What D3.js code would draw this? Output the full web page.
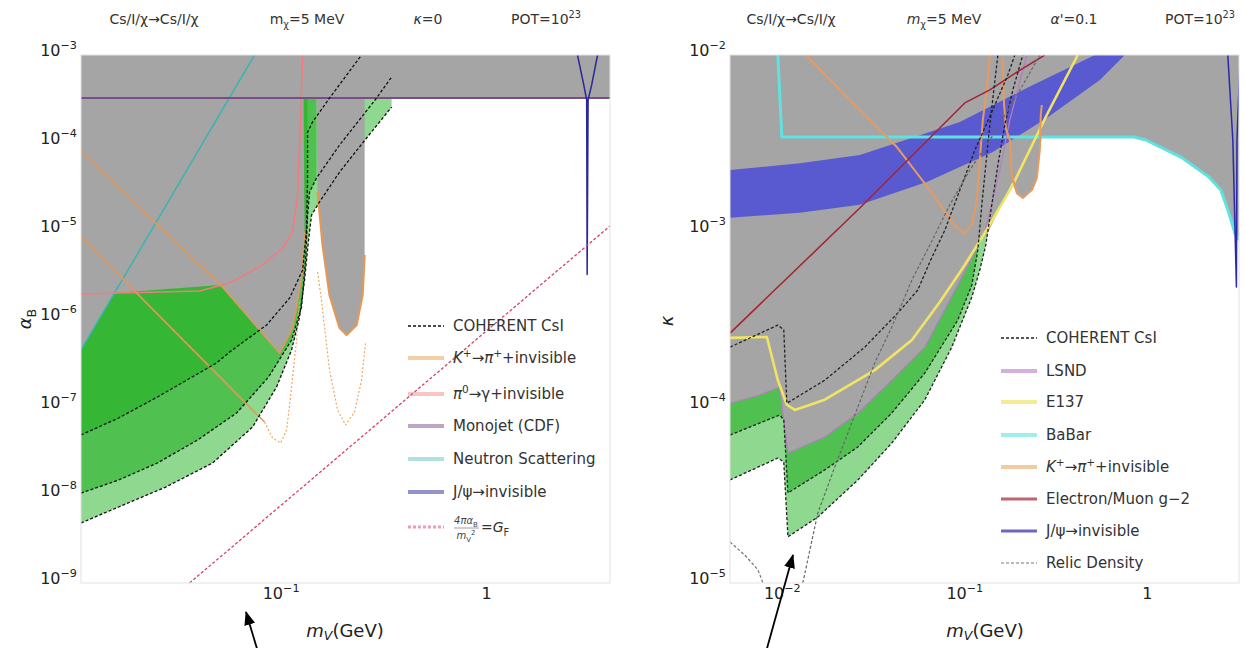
<!DOCTYPE html>
<html>
<head>
<meta charset="utf-8">
<script src="https://cdn.jsdelivr.net/npm/d3@7"></script>
<style>
  body { margin: 0; background: #fff; }
</style>
</head>
<body>
<div id="chart"></div>
<script>
// ---------- left panel: alpha_B vs m_V (GeV), kappa = 0 ----------
const xTicksLeft = [0.1, 1];
const yTicksLeft = [1e-3, 1e-4, 1e-5, 1e-6, 1e-7, 1e-8, 1e-9];

const grayLeft = [[0.0107,1e-3],[4.0,1e-3],[4.0,3.24e-4],[0.2563,3.24e-4],[0.2563,5.34e-6],[0.2505,1.87e-6],
  [0.2342,8.55e-7],[0.2094,6.58e-7],[0.1936,7.9e-7],[0.173,1.87e-6],[0.16,6.93e-6],[0.1514,2.77e-5],
  [0.1496,3.24e-4],[0.1294,3.24e-4],[0.1308,9.75e-6],[0.1265,2.92e-6],[0.1144,7.9e-7],[0.0989,4.11e-7],
  [0.0511,2.43e-6],[0.01558,1.97e-6],[0.0107,4.45e-7]];

// COHERENT CsI contours (three exposures)
const cohLeft1 = [[0.0107,4.81e-8],[0.0163,7.5e-8],[0.0252,1.3e-7],[0.0488,3.16e-7],[0.0565,4.22e-7],
  [0.0855,8.55e-7],[0.1106,1.73e-6],[0.128,3.6e-6],[0.1338,1.03e-5],[0.1353,3.8e-5],[0.1353,1.33e-4],
  [0.143,1.73e-4],[0.173,3.24e-4],[0.2477,1e-3]];
const cohLeft2 = [[0.0107,1.05e-8],[0.0163,1.48e-8],[0.0252,2.31e-8],[0.0395,4.22e-8],[0.0611,8.55e-8],
  [0.0874,2.19e-7],[0.1131,5.77e-7],[0.1265,1.37e-6],[0.1323,4.68e-6],[0.1353,1.52e-5],[0.1384,2.77e-5],
  [0.1496,4.0e-5],[0.1936,9.49e-5],[0.293,3.24e-4],[0.3467,5.62e-4]];
const cohLeft3 = [[0.0107,4.81e-9],[0.0163,7.31e-9],[0.0276,1.23e-8],[0.0467,2.31e-8],[0.0731,5.93e-8],
  [0.0956,1.69e-7],[0.1131,4.45e-7],[0.1237,1.05e-6],[0.1308,2.77e-6],[0.1368,7.9e-6],[0.1415,1.52e-5],
  [0.1547,2.14e-5],[0.1936,4.68e-5],[0.262,1.14e-4],[0.3467,2.56e-4]];
const cohTopLeft1 = [[0.1353,1e-3],[0.0107,1e-3]];
const cohTopLeft2 = [[0.1496,1e-3],[0.0107,1e-3]];
const cohTopLeft3 = [[0.3467,1e-3],[0.0107,1e-3]];

const pi0Left = [[0.0107,1.92e-6],[0.0404,2.08e-6],[0.0565,2.57e-6],[0.0818,4.11e-6],[0.1023,6.41e-6],
  [0.1144,9.75e-6],[0.121,2.56e-5],[0.1251,1.82e-4],[0.128,1e-3]];
const neutronLeft = [[0.0107,4.45e-7],[0.0747,1e-3]];
const monojetLeft = [[0.0107,3.24e-4],[4.0,3.24e-4]];
const kaonLeftA = [[0.0107,8.1e-5],[0.0511,2.43e-6],[0.0989,4.1e-7],[0.1144,7.9e-7],[0.1265,2.9e-6],[0.1308,9.8e-6]];
const kaonLeftB = [[0.0107,8.77e-6],[0.02157,1.64e-6],[0.0836,6.76e-8]];
const kaonBlobLeft = [[0.1514,2.77e-5],[0.16,6.93e-6],[0.173,1.87e-6],[0.1936,7.9e-7],[0.2094,6.58e-7],
  [0.2342,8.55e-7],[0.2505,1.87e-6],[0.2563,5.34e-6]];
const kaonDashLeft1 = [[0.0836,6.76e-8],[0.0914,4.45e-8],[0.1,3.9e-8],[0.107,5.48e-8],[0.1118,1.3e-7],
  [0.1196,5.77e-7],[0.1237,1.64e-6]];
const kaonDashLeft2 = [[0.1514,3.42e-6],[0.158,1.64e-6],[0.173,2.63e-7],[0.1893,9.25e-8],[0.207,6.24e-8],
  [0.229,8.77e-8],[0.2477,2.03e-7],[0.259,5.33e-7]];
const jpsiLeft = [[2.78,1e-3],[2.98,4.6e-4],[3.08,3.1e-4],[3.097,3.2e-6],[3.13,3.1e-4],[3.26,4.6e-4],[3.48,1e-3]];
const gfLeft = [[0.0361,1e-9],[4.0,1.14e-5]];

// ---------- right panel: kappa vs m_V (GeV), alpha' = 0.1 ----------
const xTicksRight = [0.01, 0.1, 1];
const yTicksRight = [1e-2, 1e-3, 1e-4, 1e-5];

const grayRight = [[0.0052,1e-2],[3.2,1e-2],[3.2,8.9e-4],[3.035,9.75e-4],[2.814,1.27e-3],[2.544,1.71e-3],
  [2.186,2.03e-3],[1.536,2.63e-3],[0.987,3.29e-3],[0.849,3.42e-3],[0.2658,3.42e-3],[0.2592,2.88e-3],
  [0.2497,2.0e-3],[0.2344,1.71e-3],[0.2092,1.54e-3],[0.194,1.64e-3],[0.1821,1.87e-3],[0.1345,9.75e-4],
  [0.1295,9.87e-4],[0.1072,6.67e-4],[0.0833,4.05e-4],[0.0608,2.19e-4],[0.04006,1.42e-4],[0.0261,9.25e-5],
  [0.0172,6.76e-5],[0.0108,5.48e-5],[0.01025,8.44e-5],[0.00975,1.3e-4],[0.00758,1.17e-4],[0.0052,1.05e-4]];

const cohRight1 = [[0.0052,2.19e-4],[0.00951,2.92e-4],[0.01025,2.74e-4],[0.01065,1.05e-4],[0.0172,1.42e-4],
  [0.0285,2.19e-4],[0.0432,3.42e-4],[0.0556,4.62e-4],[0.0647,6.67e-4],[0.0782,1.01e-3],[0.0945,1.71e-3],
  [0.1142,2.88e-3],[0.1415,4.75e-3],[0.1732,7.7e-3],[0.1891,1e-2]];
const cohRight2 = [[0.0052,6.93e-5],[0.00975,9.01e-5],[0.01025,8.44e-5],[0.0108,3.25e-5],[0.0172,4.39e-5],
  [0.0261,5.93e-5],[0.04006,9.25e-5],[0.0608,1.56e-4],[0.0921,3.12e-4],[0.11,4.93e-4],[0.1186,7.8e-4],
  [0.1247,1.41e-3],[0.1311,2.37e-3],[0.138,4.0e-3],[0.1451,6.33e-3],[0.1527,1e-2]];
const cohRight3 = [[0.0052,3.85e-5],[0.00951,5.13e-5],[0.01025,4.87e-5],[0.0108,1.83e-5],[0.01575,2.37e-5],
  [0.0261,3.85e-5],[0.04006,6.24e-5],[0.0608,1.1e-4],[0.0854,2.19e-4],[0.11,4.22e-4],[0.1216,6.0e-4],
  [0.1311,8.32e-4],[0.1415,1.41e-3],[0.1527,2.37e-3],[0.1667,4.0e-3],[0.1844,6.33e-3],[0.2092,1e-2]];
const cohTopRight = [[0.0052,1e-2]];

const lsndRight = [[0.0052,1.05e-4],[0.00758,1.17e-4],[0.00975,1.3e-4],[0.01025,8.44e-5],[0.0108,5.48e-5],
  [0.0172,6.76e-5],[0.0261,9.25e-5],[0.04006,1.42e-4],[0.0608,2.19e-4],[0.0833,4.05e-4],[0.1072,6.67e-4],
  [0.1295,9.87e-4],[0.1565,2.22e-3],[0.1776,4.27e-3],[0.22,1e-2]];
const e137Right = [[0.0052,2.47e-4],[0.00828,2.5e-4],[0.00951,1.42e-4],[0.01065,1.03e-4],[0.01178,9.62e-5],
  [0.0172,1.1e-4],[0.0323,1.62e-4],[0.0516,2.4e-4],[0.0734,3.95e-4],[0.1006,6.41e-4],[0.1345,1.04e-3],
  [0.1844,1.83e-3],[0.283,4.56e-3],[0.4186,1e-2]];
const babarRight = [[0.00951,1e-2],[0.01,3.42e-3],[0.849,3.42e-3],[0.987,3.29e-3],[1.536,2.63e-3],
  [2.186,2.03e-3],[2.544,1.71e-3],[2.814,1.27e-3],[3.035,9.75e-4],[3.2,8.9e-4]];
const kaonRight1 = [[0.01353,1e-2],[0.0236,5.55e-3],[0.0427,3.0e-3],[0.0647,1.71e-3],[0.0898,1.05e-3],
  [0.1006,9.75e-4],[0.11,1.08e-3],[0.1171,1.5e-3],[0.1216,2.53e-3],[0.1263,4.27e-3],[0.1328,6.33e-3],[0.138,1e-2]];
const kaonRight2 = [[0.1626,9.6e-3],[0.1646,5.55e-3],[0.1688,3.85e-3],[0.1776,3.29e-3],[0.1821,2.08e-3],
  [0.194,1.64e-3],[0.2092,1.54e-3],[0.2344,1.71e-3],[0.2497,2.0e-3],[0.2592,2.88e-3],[0.2624,4.56e-3],[0.2658,5.2e-3]];
const g2Right = [[0.0052,2.63e-4],[0.02676,1.35e-3],[0.1006,5.34e-3],[0.138,6.33e-3],[0.194,8.0e-3],[0.276,1e-2]];
const bandUpperRight = [[0.0052,2.22e-3],[0.01255,2.43e-3],[0.02676,2.7e-3],[0.0945,4.16e-3],[0.22,6.49e-3],[0.519,1e-2]];
const bandLowerRight = [[0.0052,1.19e-3],[0.01255,1.27e-3],[0.02676,1.41e-3],[0.0623,1.9e-3],[0.1433,2.81e-3],
  [0.283,4.39e-3],[0.553,7.21e-3],[0.758,1e-2]];
const jpsiRight = [[2.778,1e-2],[2.96,3.3e-3],[3.097,4.8e-4],[3.12,3.3e-3],[3.25,1e-2]];
const relicRight1 = [[0.0052,1.71e-5],[0.00627,1.44e-5],[0.00739,1.19e-5],[0.0082,9e-6]];
const relicRight2 = [[0.01303,1e-5],[0.01575,2.5e-5],[0.0195,4.56e-5],[0.0261,1.0e-4],[0.0323,1.78e-4],
  [0.04006,2.85e-4],[0.0472,4.22e-4],[0.0516,5.27e-4],[0.0647,8.32e-4],[0.0833,1.41e-3],[0.1072,2.22e-3],
  [0.138,3.29e-3],[0.171,4.75e-3],[0.2092,6.75e-3],[0.2592,1e-2]];

// ---------- text ----------
const titlesLeft = [
  [{t: "Cs/I/χ→Cs/I/χ"}],
  [{t: "m"}, {t: "χ", sub: 1}, {t: "=5 MeV"}],
  [{t: "κ", i: 1}, {t: "=0"}],
  [{t: "POT=10"}, {t: "23", sup: 1}]
];
const titlesRight = [
  [{t: "Cs/I/χ→Cs/I/χ"}],
  [{t: "m", i: 1}, {t: "χ", sub: 1}, {t: "=5 MeV"}],
  [{t: "α'", i: 1}, {t: "=0.1"}],
  [{t: "POT=10"}, {t: "23", sup: 1}]
];
const legendLeftLabels = [
  [{t: "COHERENT CsI"}],
  [{t: "K", i: 1}, {t: "+", sup: 1}, {t: "→"}, {t: "π", i: 1}, {t: "+", sup: 1}, {t: "+invisible"}],
  [{t: "π", i: 1}, {t: "0", sup: 1}, {t: "→γ+invisible"}],
  [{t: "Monojet (CDF)"}],
  [{t: "Neutron Scattering"}],
  [{t: "J/ψ→invisible"}],
  null
];
const legendRightLabels = [
  [{t: "COHERENT CsI"}],
  [{t: "LSND"}],
  [{t: "E137"}],
  [{t: "BaBar"}],
  [{t: "K", i: 1}, {t: "+", sup: 1}, {t: "→"}, {t: "π", i: 1}, {t: "+", sup: 1}, {t: "+invisible"}],
  [{t: "Electron/Muon g−2"}],
  [{t: "J/ψ→invisible"}],
  [{t: "Relic Density"}]
];

// ---------- setup ----------
const width = 1245;
const height = 648;
const gray = "#a5a5a5";
const greenDark = "#35b635";
const greenMid = "#50c150";
const greenLight = "#8fd88f";

const svg = d3.select("#chart")
  .append("svg")
  .attr("width", width)
  .attr("height", height)
  .style("font-family", "'DejaVu Sans', sans-serif");

const defs = svg.append("defs");
defs.append("marker")
  .attr("id", "arrowhead")
  .attr("viewBox", "0 0 14 11")
  .attr("refX", 13).attr("refY", 5.5)
  .attr("markerWidth", 14).attr("markerHeight", 11)
  .attr("markerUnits", "userSpaceOnUse")
  .attr("orient", "auto")
  .append("path").attr("d", "M0,0L14,5.5L0,11Z").attr("fill", "#000");

// write text made of plain / italic / sub / sup pieces
function rich(text, segs, size, subShift = 0.28) {
  let shift = 0;
  segs.forEach(s => {
    const target = s.sup ? -0.42 * size : s.sub ? subShift * size : 0;
    const ts = text.append("tspan").text(s.t).attr("dy", target - shift);
    if (s.sup || s.sub) ts.attr("font-size", size * 0.7);
    if (s.i) ts.attr("font-style", "italic");
    shift = target;
  });
  return text;
}

function powLabel(d) {
  const e = Math.round(Math.log10(d));
  return e === 0 ? [{t: "1"}] : [{t: "10"}, {t: "−" + Math.abs(e), sup: 1}];
}

function makePanel(x, y, id) {
  const [x0, x1] = x.range();
  const [y1, y0] = y.range();
  defs.append("clipPath").attr("id", id)
    .append("rect").attr("x", x0).attr("y", y0).attr("width", x1 - x0).attr("height", y1 - y0);
  const g = svg.append("g").attr("clip-path", `url(#${id})`);
  const line = d3.line().x(d => x(d[0])).y(d => y(d[1]));
  return {
    x, y, g, x0, x1, y0, y1,
    area(pts, fill, op = 1) {
      return g.append("path").attr("d", line(pts) + "Z").attr("fill", fill).attr("opacity", op);
    },
    line(pts, stroke, w, dash = null, op = 1) {
      return g.append("path").attr("d", line(pts))
        .attr("fill", "none").attr("stroke", stroke).attr("stroke-width", w)
        .attr("stroke-dasharray", dash).attr("stroke-opacity", op)
        .attr("stroke-linejoin", "round");
    }
  };
}

function drawAxes(p, xTicks, yTicks) {
  svg.append("rect")
    .attr("x", p.x0).attr("y", p.y0).attr("width", p.x1 - p.x0).attr("height", p.y1 - p.y0)
    .attr("fill", "none").attr("stroke", "#e2e2e2");

  const gx = svg.append("g")
    .attr("transform", `translate(0,${p.y1})`)
    .call(d3.axisBottom(p.x).tickValues(xTicks).tickSize(0).tickPadding(16).tickFormat(""));
  const gy = svg.append("g")
    .attr("transform", `translate(${p.x0},0)`)
    .call(d3.axisLeft(p.y).tickValues(yTicks).tickSize(0).tickPadding(4).tickFormat(""));

  [gx, gy].forEach(g => {
    g.select(".domain").remove();
    g.attr("font-size", 16).attr("font-family", null);
    g.selectAll(".tick text").attr("fill", "#222").each(function (d) {
      rich(d3.select(this), powLabel(d), 16);
    });
  });
}

function drawLegend(x, ys, labels, styles) {
  labels.forEach((lab, i) => {
    const s = styles[i];
    svg.append("line")
      .attr("x1", x).attr("x2", x + 36).attr("y1", ys[i]).attr("y2", ys[i])
      .attr("stroke", s[0]).attr("stroke-width", s[1]).attr("stroke-opacity", s[2])
      .attr("stroke-dasharray", s[3] || null);
    if (lab) {
      const t = svg.append("text").attr("x", x + 45).attr("y", ys[i] + 5)
        .attr("font-size", 15).attr("fill", "#333");
      rich(t, lab, 15);
    }
  });
}

function drawTitles(xs, titles) {
  titles.forEach((segs, i) => {
    const t = svg.append("text").attr("x", xs[i]).attr("y", 24)
      .attr("text-anchor", "middle").attr("font-size", 14).attr("fill", "#333");
    rich(t, segs, 14);
  });
}

// ---------- left panel ----------
const L = makePanel(
  d3.scaleLog().domain([0.0107, 4.0]).range([81, 610]),
  d3.scaleLog().domain([1e-9, 1e-3]).range([583, 55]),
  "clipLeft");

L.area(cohLeft3.concat(cohTopLeft3), greenLight);
L.area(cohLeft2.slice(0, 12).concat(cohTopLeft2), greenMid);
L.area(cohLeft1.slice(0, 11).concat(cohTopLeft1), greenDark);
L.area(grayLeft, gray);

L.line(neutronLeft, "#3db3b0", 1.5);
L.line(pi0Left, "#f07c80", 1.6);
L.line(kaonLeftA, "#e0995a", 1.6);
L.line(kaonLeftB, "#e0995a", 1.6);
L.line(kaonBlobLeft, "#e0995a", 2.2);
L.line(kaonDashLeft1, "#f0a860", 1.2, "2,2");
L.line(kaonDashLeft2, "#f0a860", 1.2, "2,2");
L.line(monojetLeft, "#7b4b8a", 2);
L.line(jpsiLeft, "#28289a", 1.5);
L.line(gfLeft, "#d8405e", 1.3, "3,2");
[cohLeft1, cohLeft2, cohLeft3].forEach(c => L.line(c, "#111", 1.3, "3,2"));

drawAxes(L, xTicksLeft, yTicksLeft);

// ---------- right panel ----------
const R = makePanel(
  d3.scaleLog().domain([0.0052, 3.2]).range([730, 1239]),
  d3.scaleLog().domain([1e-5, 1e-2]).range([583, 55]),
  "clipRight");

R.area(cohRight3.concat(cohTopRight), greenLight);
R.area(cohRight2.concat(cohTopRight), greenMid);
R.area(grayRight, gray);
R.area(bandUpperRight.concat(bandLowerRight.slice().reverse()), "#5a5ad0");

R.line(babarRight, "#5fe2e2", 3);
R.line(lsndRight, "#b67cc6", 1.2);
R.line(e137Right, "#efe466", 2.6);
R.line(kaonRight1, "#e89a60", 2);
R.line(kaonRight2, "#e89a60", 2);
R.line(g2Right, "#a52235", 1.5);
[cohRight1, cohRight2, cohRight3].forEach(c => R.line(c, "#222", 1.3, "3,2"));
R.line(relicRight1, "#777", 1.2, "3,2");
R.line(relicRight2, "#666", 1.2, "3,2");
R.line(jpsiRight, "#2a2aa8", 1.5);

drawAxes(R, xTicksRight, yTicksRight);

// ---------- legends ----------
drawLegend(408, [326, 358, 394, 426, 459, 492, 527], legendLeftLabels, [
  ["#111", 1.3, 1, "3,2"],
  ["#e8a050", 4, 0.5],
  ["#f07c80", 4, 0.45],
  ["#7b4b8a", 4, 0.5],
  ["#3db3b0", 4, 0.4],
  ["#28289a", 4, 0.5],
  ["#d8405e", 3, 0.5, "3,2"]
]);
// G_F fraction label
svg.append("text").attr("x", 466).attr("y", 524).attr("text-anchor", "middle")
  .attr("font-size", 10).attr("fill", "#444")
  .call(t => rich(t, [{t: "4πα", i: 1}, {t: "B", sub: 1}], 10));
svg.append("line").attr("x1", 454).attr("x2", 479).attr("y1", 528).attr("y2", 528)
  .attr("stroke", "#888").attr("stroke-width", 0.8);
svg.append("text").attr("x", 466).attr("y", 539).attr("text-anchor", "middle")
  .attr("font-size", 10).attr("fill", "#444")
  .call(t => rich(t, [{t: "m", i: 1}, {t: "V", sub: 1}, {t: "2", sup: 1}], 10));
svg.append("text").attr("x", 481).attr("y", 532).attr("font-size", 14).attr("fill", "#333")
  .call(t => rich(t, [{t: "="}, {t: "G", i: 1}, {t: "F", sub: 1}], 14));

drawLegend(1001, [338, 371, 402, 435, 467, 499, 531, 563], legendRightLabels, [
  ["#222", 1.3, 1, "3,2"],
  ["#b67cc6", 4, 0.6],
  ["#efe466", 4, 0.7],
  ["#5fe2e2", 4, 0.6],
  ["#e8a050", 4, 0.55],
  ["#a52235", 3, 0.7],
  ["#2a2aa8", 3, 0.7],
  ["#777", 1.2, 1, "3,2"]
]);

// ---------- titles and axis labels ----------
drawTitles([154, 307, 428, 546], titlesLeft);
drawTitles([791, 944, 1074, 1200], titlesRight);

[345, 985].forEach(cx => {
  svg.append("text").attr("x", cx).attr("y", 637).attr("text-anchor", "middle")
    .attr("font-size", 18).attr("fill", "#222")
    .call(t => rich(t, [{t: "m", i: 1}, {t: "V", sub: 1, i: 1}, {t: "(GeV)"}], 18, 0.18));
});
svg.append("text").attr("transform", "translate(31,319) rotate(-90)").attr("text-anchor", "middle")
  .attr("font-size", 18).attr("fill", "#222")
  .call(t => rich(t, [{t: "α", i: 1}, {t: "B", sub: 1}], 18));
svg.append("text").attr("transform", "translate(673,321) rotate(-90)").attr("text-anchor", "middle")
  .attr("font-size", 18).attr("fill", "#222")
  .call(t => rich(t, [{t: "κ", i: 1}], 18));

// ---------- annotation arrows ----------
svg.append("line").attr("x1", 258).attr("y1", 652).attr("x2", 246).attr("y2", 612)
  .attr("stroke", "#000").attr("stroke-width", 1.8).attr("marker-end", "url(#arrowhead)");
svg.append("line").attr("x1", 766).attr("y1", 652).attr("x2", 793).attr("y2", 555)
  .attr("stroke", "#000").attr("stroke-width", 1.8).attr("marker-end", "url(#arrowhead)");
</script>
</body>
</html>
